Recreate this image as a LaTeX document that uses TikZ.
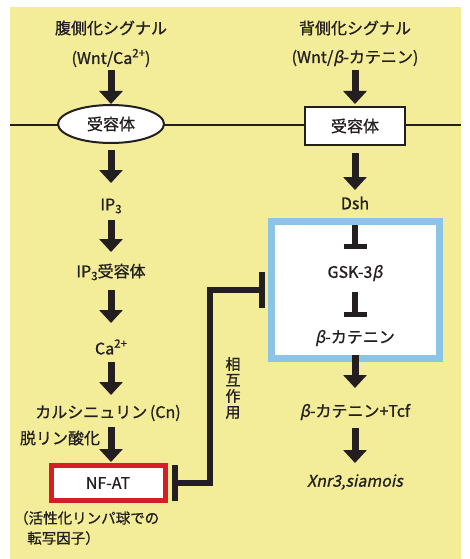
\documentclass[tikz,border=0pt]{standalone}
\usepackage{fontspec}
\setmainfont{Noto Sans CJK JP}[FakeBold=0.9, AutoFakeSlant=0.2]
\usetikzlibrary{arrows.meta,shapes.geometric}
\definecolor{bgY}{RGB}{243,236,152}
\definecolor{ink}{RGB}{35,31,32}
\definecolor{boxBlue}{RGB}{140,196,230}
\definecolor{boxRed}{RGB}{214,30,38}
\newcommand{\mysup}[1]{\raisebox{0.42em}{\fontsize{11.5}{12}\selectfont #1}}
\newcommand{\mysub}[1]{\raisebox{-0.18em}{\fontsize{11.5}{12}\selectfont #1}}
\begin{document}
\begin{tikzpicture}[x=1pt,y=-1pt,
  lbl/.style={font=\fontsize{16}{19}\selectfont, inner sep=0pt, text=ink},
  small/.style={font=\fontsize{14.5}{20}\selectfont, inner sep=0pt, text=ink},
  arr/.style={draw=ink, line width=7pt, -{Triangle[width=23pt,length=13pt]}},
  inh/.style={draw=ink, line width=6pt, -{Rectangle[width=23pt,length=5pt]}},
  link/.style={draw=ink, line width=5.5pt, miter limit=10,
    {Rectangle[width=36pt,length=6pt]}-{Rectangle[width=36pt,length=6pt]}},
  memb/.style={draw=ink, line width=2.5pt},
  recbox/.style={draw=ink, line width=2pt, fill=white, inner sep=0pt, text=ink,
    font=\fontsize{16}{19}\selectfont},
]
\useasboundingbox (0,0) rectangle (470,559);
\fill[bgY] (10,7) rectangle (461,559);

% membrane
\coordinate (memL) at (10,125);
\coordinate (memR) at (461,125);
\draw[memb] (memL) -- (memR);

% receptors
\node[recbox, ellipse, minimum width=106pt, minimum height=38pt] (recL) at (111,124) {受容体};
\node[recbox, rectangle, minimum width=100pt, minimum height=38pt] (recR) at (355,126) {受容体};

% blue frame
\node[draw=boxBlue, line width=7pt, fill=white, inner sep=0pt,
      minimum width=168pt, minimum height=137pt] (blueBox) at (355.5,290) {};

% red NF-AT box
\node[draw=boxRed, line width=5pt, fill=white, inner sep=0pt, text=ink,
      font=\fontsize{16}{19}\selectfont,
      minimum width=114pt, minimum height=35pt] (nfat) at (108,483) {NF-AT};

% titles
\node[lbl] (tL1) at (111,28) {腹側化シグナル};
\node[lbl] (tL2) at (111,58) {(Wnt/Ca\mysup{2+})};
\node[lbl] (tR1) at (355,28) {背側化シグナル};
\node[lbl] (tR2) at (355,58) {(Wnt/{\itshape β}-カテニン)};

% left column
\node[lbl] (ip3) at (111,206) {IP\mysub{3}};
\node[lbl] (ip3r) at (111,272) {IP\mysub{3}受容体};
\node[lbl] (ca) at (111,347) {Ca\mysup{2+}};
\node[lbl] (cn) at (108,413) {カルシニュリン\,(Cn)};
\node[lbl] (dephos) at (60,438) {脱リン酸化};
\node[small, align=left, anchor=west] (tf) at (14,528) {（活性化リンパ球での\\\hspace*{0.9em}転写因子）};

% right column
\node[lbl] (dsh) at (355,203) {Dsh};
\node[lbl] (gsk) at (355,273) {GSK-3{\itshape β}};
\node[lbl] (bcat) at (355,338) {{\itshape β}-カテニン};
\node[lbl] (bcattcf) at (355,412) {{\itshape β}-カテニン+Tcf};
\node[lbl] (xnr) at (355,482) {\itshape Xnr3,siamois};

% interaction label
\node[font=\fontsize{15}{16}\selectfont, text=ink, inner sep=0pt, align=center] (sogo) at (233,388) {相\\互\\作\\用};

% left arrows
\draw[arr, shorten <=12pt, shorten >=20pt] (tL2.center) -- (recL.center);
\draw[arr, shorten <=26pt, shorten >=23pt] (recL.center) -- (ip3.center);
\draw[arr, shorten <=14pt, shorten >=20pt] (ip3.center) -- (ip3r.center);
\draw[arr, shorten <=18pt, shorten >=24pt] (ip3r.center) -- (ca.center);
\draw[arr, shorten <=15pt, shorten >=18pt] (ca.center) -- (ca.center |- cn.center);
\draw[arr, shorten <=14pt, shorten >=21pt] (ca.center |- cn.center) -- (ca.center |- nfat.center);

% right arrows
\draw[arr, shorten <=12pt, shorten >=22pt] (tR2.center) -- (recR.center);
\draw[arr, shorten <=27pt, shorten >=13pt] (recR.center) -- (dsh.center);
\draw[inh, shorten <=22pt, shorten >=24pt] (dsh.center) -- (gsk.center);
\draw[inh, shorten <=19pt, shorten >=21pt] (gsk.center) -- (bcat.center);
\draw[arr, shorten <=17pt, shorten >=24pt] (bcat.center) -- (bcattcf.center);
\draw[arr, shorten <=16pt, shorten >=19pt] (bcattcf.center) -- (xnr.center);

% interaction connector
\coordinate (ix) at (210,380);
\draw[link, shorten <=4pt, shorten >=3pt] (nfat.east) -| (ix) |- (blueBox.west);
\end{tikzpicture}
\end{document}
